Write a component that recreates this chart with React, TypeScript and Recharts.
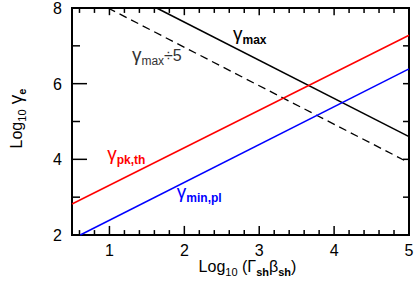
import { LineChart, Line, XAxis, YAxis, ReferenceArea, ReferenceLine } from "recharts";

const xMajor = [1, 2, 3, 4, 5];
const xTicks = [0.6, 0.8, 1, 1.2, 1.4, 1.6, 1.8, 2, 2.2, 2.4, 2.6, 2.8, 3, 3.2, 3.4, 3.6, 3.8, 4, 4.2, 4.4, 4.6, 4.8, 5];
const yMajor = [2, 4, 6, 8];
const yTicks = [2, 3, 4, 5, 6, 7, 8];

// log10 gamma vs log10 (Gamma_sh beta_sh)
const gammaMax = [
  { x: 1.63, y: 8.0 },
  { x: 5.0, y: 4.6 },
];
const gammaMaxDiv5 = [
  { x: 0.98, y: 8.0 },
  { x: 5.0, y: 3.91 },
];
const gammaPkTh = [
  { x: 0.5, y: 2.82 },
  { x: 5.0, y: 7.28 },
];
const gammaMinPl = [
  { x: 0.61, y: 2.0 },
  { x: 5.0, y: 6.39 },
];

const notes = [
  { x: 2.65, y: 7.15, sym: "γ", sub: "max", tail: "", color: "#000", bold: true },
  { x: 1.3, y: 6.6, sym: "γ", sub: "max", tail: "÷5", color: "#333", bold: false },
  { x: 0.97, y: 3.98, sym: "γ", sub: "pk,th", tail: "", color: "#ff0000", bold: true },
  { x: 1.9, y: 2.97, sym: "γ", sub: "min,pl", tail: "", color: "#0000ff", bold: true },
];

// anchors for the axis titles: bottom centre and left middle of the frame
const titles = [
  { x: 2.75, y: 2, kind: "x" },
  { x: 0.5, y: 5, kind: "y" },
];

const X0 = 0.5;
const X1 = 5;
const Y0 = 2;
const Y1 = 8;

const font = "'Liberation Sans', Arial, sans-serif";
const ink = "#000000";
const isMajor = (v: number, list: number[]) => list.some((m) => Math.abs(m - v) < 1e-6);

function BottomTick({ x, y, payload }: any) {
  if (!isMajor(payload.value, xMajor)) return <g />;
  return (
    <text x={x} y={y + 21} textAnchor="middle" fontSize={16} fontFamily={font} fill={ink}>
      {payload.value}
    </text>
  );
}

function LeftTick({ x, y, payload }: any) {
  if (!isMajor(payload.value, yMajor)) return <g />;
  return (
    <text x={x - 10} y={y + 6} textAnchor="end" fontSize={16} fontFamily={font} fill={ink}>
      {payload.value}
    </text>
  );
}

function noteDot({ cx, cy, payload, index }: any) {
  const n = payload;
  return (
    <text key={index} x={cx} y={cy} fontFamily={font} fill={n.color}>
      <tspan fontSize={19}>{n.sym}</tspan>
      <tspan fontSize={12} fontWeight={n.bold ? "bold" : "normal"} dy={4}>
        {n.sub}
      </tspan>
      {n.tail && (
        <tspan fontSize={16} dy={-4}>
          {n.tail}
        </tspan>
      )}
    </text>
  );
}

function titleDot({ cx, cy, payload, index }: any) {
  if (payload.kind === "x") {
    return (
      <text key={index} x={cx + 7} y={cy + 37} textAnchor="middle" fontSize={16} fontFamily={font} fill={ink}>
        Log<tspan fontSize={11} dy={4}>10</tspan>
        <tspan dy={-4}> (Γ</tspan>
        <tspan fontSize={11} fontWeight="bold" dy={4}>sh</tspan>
        <tspan dy={-4}>β</tspan>
        <tspan fontSize={11} fontWeight="bold" dy={4}>sh</tspan>
        <tspan dy={-4}>)</tspan>
      </text>
    );
  }
  const tx = cx - 50;
  const ty = cy - 3;
  return (
    <text key={index} x={tx} y={ty} transform={`rotate(-90 ${tx} ${ty})`} textAnchor="middle" fontSize={16} fontFamily={font} fill={ink}>
      Log<tspan fontSize={11} dy={4}>10</tspan>
      <tspan dy={-4} fontSize={19}> γ</tspan>
      <tspan fontSize={11} fontWeight="bold" dy={4}>e</tspan>
    </text>
  );
}

// inward tick marks, lengths in data units
const tickSegs = [
  ...xTicks.map((v) => {
    const len = isMajor(v, xMajor) ? 0.24 : 0.13;
    return [
      [{ x: v, y: Y0 }, { x: v, y: Y0 + len }],
      [{ x: v, y: Y1 }, { x: v, y: Y1 - (isMajor(v, xMajor) ? 0.19 : 0.13) }],
    ];
  }).flat(),
  ...yTicks.map((v) => [
    [{ x: X0, y: v }, { x: X0 + (isMajor(v, yMajor) ? 0.2 : 0.107) }],
    [{ x: X1, y: v }, { x: X1 - 0.08 }],
  ].map((s) => [s[0], { x: (s[1] as any).x, y: v }])).flat(),
];

export default function App() {
  return (
    <div style={{ position: "absolute", left: 0, top: 0 }}>
      <LineChart width={415} height={286} margin={{ top: 8, right: 6, left: 0, bottom: 0 }}>
        <XAxis xAxisId="b" type="number" dataKey="x" domain={[X0, X1]} ticks={xTicks} interval={0} height={51}
          tickSize={0} tickMargin={0} tickLine={false} axisLine={false} tick={<BottomTick />} />
        <YAxis yAxisId="l" type="number" domain={[Y0, Y1]} ticks={yTicks} interval={0} width={72}
          tickSize={0} tickMargin={0} tickLine={false} axisLine={false} tick={<LeftTick />} />
        <ReferenceArea xAxisId="b" yAxisId="l" x1={X0} x2={X1} y1={Y0} y2={Y1} fill="none" fillOpacity={0} stroke={ink} strokeWidth={2} ifOverflow="visible" />
        {tickSegs.map((s, i) => (
          <ReferenceLine key={i} xAxisId="b" yAxisId="l" segment={s as any} stroke={ink} strokeWidth={1.5} ifOverflow="visible" />
        ))}
        <Line xAxisId="b" yAxisId="l" data={gammaMaxDiv5} dataKey="y" stroke="#000" strokeWidth={1.3} strokeDasharray="8 5" dot={false} isAnimationActive={false} />
        <Line xAxisId="b" yAxisId="l" data={gammaMax} dataKey="y" stroke="#000" strokeWidth={1.5} dot={false} isAnimationActive={false} />
        <Line xAxisId="b" yAxisId="l" data={gammaPkTh} dataKey="y" stroke="#ff0000" strokeWidth={1.5} dot={false} isAnimationActive={false} />
        <Line xAxisId="b" yAxisId="l" data={gammaMinPl} dataKey="y" stroke="#0000ff" strokeWidth={1.5} dot={false} isAnimationActive={false} />
        <Line xAxisId="b" yAxisId="l" data={notes} dataKey="y" stroke="none" dot={noteDot} activeDot={false} isAnimationActive={false} />
        <Line xAxisId="b" yAxisId="l" data={titles} dataKey="y" stroke="none" dot={titleDot} activeDot={false} isAnimationActive={false} />
      </LineChart>
    </div>
  );
}
